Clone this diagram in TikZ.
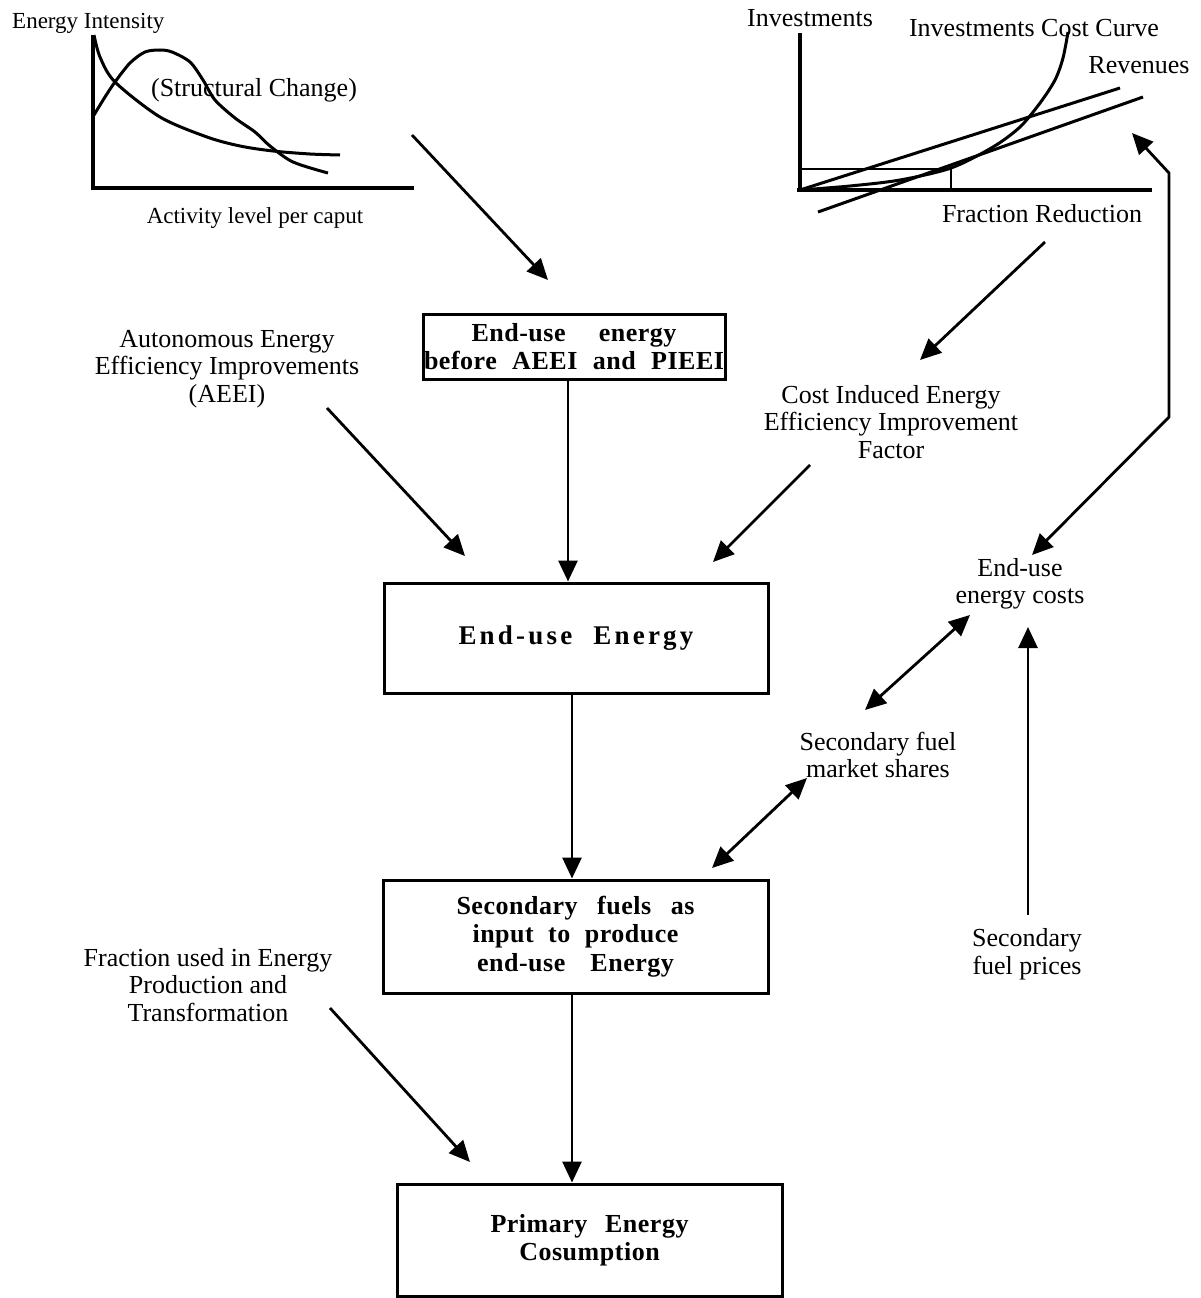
\documentclass[tikz,border=0pt]{standalone}
\usepackage{fontspec}
\setmainfont{Liberation Serif}
\newfontfamily\bxa[LetterSpace=2]{Liberation Serif}
\newfontfamily\bxb[LetterSpace=12]{Liberation Serif}
\newcommand{\boxline}[2]{\makebox[#1pt][s]{#2}}
\usetikzlibrary{arrows.meta}
\begin{document}
\begin{tikzpicture}[x=1pt,y=-1pt,
  lbl/.style={font=\fontsize{26}{27.5}\selectfont, align=center, inner sep=0pt},
  sml/.style={font=\fontsize{23}{26}\selectfont, inner sep=0pt},
  box/.style={draw, line width=3pt, font=\bxa\bfseries\fontsize{26}{28.5}\selectfont, align=center, inner sep=0pt},
  arr/.style={line width=2.8pt, -{Triangle[length=21pt,width=19pt]}},
  darr/.style={line width=2.8pt, {Triangle[length=21pt,width=19pt]}-{Triangle[length=21pt,width=19pt]}},
  ax/.style={line width=3.2pt},
  crv/.style={line width=3pt}]
\useasboundingbox (0,0) rectangle (1200,1298);

% ---------- top-left graph ----------
\draw[ax] (93,35) -- (93,188) -- (414,188);
\draw[crv] plot[smooth] coordinates {(94,35) (100,57) (115,82) (160,117) (207,137) (240,146) (273,151) (310,154) (340,155)};
\draw[crv] plot[smooth] coordinates {(94,115) (105,97) (115,82) (130,63) (145,52) (160,50) (172,52) (190,62) (203,80) (215,100) (235,118) (255,132) (270,146) (293,162) (328,173)};
\node[sml, anchor=west] (tei) at (12,23) {Energy Intensity};
\node[lbl] (tsc) at (254,90) {(Structural Change)};
\node[sml] (talc) at (255,218) {Activity level per caput};

% ---------- top-right graph ----------
\draw[ax] (800,33) -- (800,190);
\draw[ax] (797,190) -- (1152,190);
\draw[line width=2.8pt] (800,169) -- (951,169) -- (951,190);
\draw[crv] (800,190) -- (1120,88);
\draw[crv] (818,212) -- (1143,97);
\draw[crv] plot[smooth] coordinates {(800,190) (850,186) (900,180) (951,168) (993,147) (1020,127) (1040,103) (1055,80) (1063,58) (1068,32)};
\node[lbl, anchor=west] (tinv) at (747,18) {Investments};
\node[lbl] (ticc) at (1034,28) {Investments Cost Curve};
\node[lbl] (trev) at (1139,65) {Revenues};
\node[lbl] (tfr) at (1042,214) {Fraction Reduction};

% ---------- boxes ----------
\node[box, minimum width=302pt, minimum height=65pt] (b1) at (574,346.5)
  {\boxline{205}{End-use energy}\\\boxline{300}{before AEEI and PIEEI}};
\node[box, minimum width=384pt, minimum height=110pt, font=\bxb\bfseries\fontsize{27}{29}\selectfont] (b2) at (576,638)
  {\boxline{235}{End-use Energy}};
\node[box, minimum width=385pt, minimum height=113pt] (b3) at (575.5,936.5)
  {\boxline{238}{Secondary fuels as}\\\boxline{206}{input to produce}\\\boxline{197}{end-use Energy}};
\node[box, minimum width=385pt, minimum height=112pt] (b4) at (589.5,1240)
  {\boxline{198}{Primary Energy}\\Cosumption};

% ---------- labels ----------
\node[lbl] (aeei) at (227,369) {Autonomous Energy\\Efficiency Improvements\\(AEEI)};
\node[lbl] (cieei) at (891,422) {Cost Induced Energy\\Efficiency Improvement\\Factor};
\node[lbl] (euc) at (1020,584) {End-use\\energy costs};
\node[lbl] (sfms) at (878,755) {Secondary fuel\\market shares};
\node[lbl] (sfp) at (1027,954) {Secondary\\fuel prices};
\node[lbl] (fu) at (208,985) {Fraction used in Energy\\Production and\\Transformation};

% ---------- connector end points ----------
\coordinate (scout) at (412,135);
\coordinate (b1in) at (548,280);
\coordinate (aeeiout) at (327,408);
\coordinate (b2inl) at (465,556);
\coordinate (frout) at (1045,242);
\coordinate (cieeiin) at (920,360);
\coordinate (cieeiout) at (810,465);
\coordinate (b2inr) at (713,562);
\coordinate (eucin) at (1032,555);
\coordinate (k1) at (1169,417);
\coordinate (k2) at (1169,173);
\coordinate (revin) at (1132,133);
\coordinate (sfmsa) at (865,710);
\coordinate (euca) at (970,615);
\coordinate (sfmsb) at (807,778);
\coordinate (b3in) at (712,868);
\coordinate (sfpout) at (1028,915);
\coordinate (eucb) at (1028,627);
\coordinate (fuout) at (330,1008);
\coordinate (b4in) at (470,1162);

% ---------- connectors ----------
\draw[arr] (scout) -- (b1in);
\draw[arr] ([xshift=-6pt]b1.south) -- ([xshift=-6pt]b1.south |- b2.north);
\draw[arr] ([xshift=-4pt]b2.south) -- ([xshift=-4pt]b2.south |- b3.north);
\draw[arr] ([xshift=-3.5pt]b3.south) -- ([xshift=-3.5pt]b3.south |- b4.north);
\draw[arr] (aeeiout) -- (b2inl);
\draw[arr] (frout) -- (cieeiin);
\draw[arr] (cieeiout) -- (b2inr);
\draw[darr] (eucin) -- (k1) -- (k2) -- (revin);
\draw[darr] (sfmsa) -- (euca);
\draw[darr] (sfmsb) -- (b3in);
\draw[arr] (sfpout) -- (eucb);
\draw[arr] (fuout) -- (b4in);
\end{tikzpicture}
\end{document}
